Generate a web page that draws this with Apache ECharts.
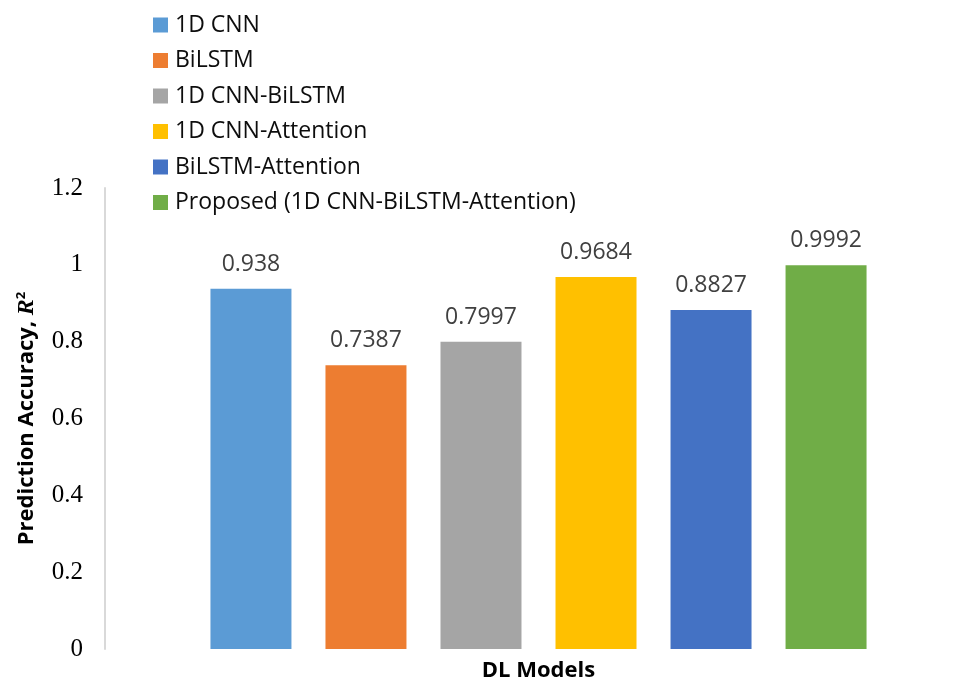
<!DOCTYPE html>
<html>
<head>
<meta charset="utf-8">
<title>Prediction Accuracy of DL Models</title>
<script src="https://cdn.jsdelivr.net/npm/echarts@6/dist/echarts.min.js"></script>
<style>
  html, body { margin: 0; padding: 0; background: #fff; }
  #chart { width: 960px; height: 679px; }
</style>
</head>
<body>
<div id="chart"></div>
<script>
// Model names (one bar per model) and their R² scores
const models = [
  '1D CNN',
  'BiLSTM',
  '1D CNN-BiLSTM',
  '1D CNN-Attention',
  'BiLSTM-Attention',
  'Proposed (1D CNN-BiLSTM-Attention)'
];
const r2Scores = [0.938, 0.7387, 0.7997, 0.9684, 0.8827, 0.9992];
const barColors = ['#5B9BD5', '#ED7D31', '#A5A5A5', '#FFC000', '#4472C4', '#70AD47'];
const yTicks = { min: 0, max: 1.2, interval: 0.2 };

const uiFont = '"Open Sans", Lato, sans-serif';

const chart = echarts.init(document.getElementById('chart'), null, { renderer: 'canvas' });

const series = models.map((name, i) => ({
  name: name,
  type: 'bar',
  data: [r2Scores[i]],
  barWidth: 81,
  barGap: '42%',
  itemStyle: { color: barColors[i] },
  label: {
    show: true,
    position: 'top',
    distance: 13,
    color: '#404040',
    fontFamily: uiFont,
    fontSize: 23
  }
}));

chart.setOption({
  animation: false,
  backgroundColor: '#fff',
  color: barColors,
  legend: {
    orient: 'vertical',
    left: 148,
    top: 8,
    itemWidth: 15,
    itemHeight: 15,
    itemGap: 11.5,
    icon: 'rect',
    textStyle: { color: '#0d0d0d', fontFamily: uiFont, fontSize: 23, lineHeight: 24, padding: [0, 0, 0, 2] },
    data: models
  },
  grid: {
    left: 105, width: 867, top: 188, bottom: 30,
    containLabel: false,
    outerBoundsMode: 'none'
  },
  xAxis: {
    type: 'category',
    data: [''],
    axisLine: { show: false },
    axisTick: { show: false },
    axisLabel: { show: false },
    name: 'DL Models',
    nameLocation: 'middle',
    nameGap: 11,
    nameTextStyle: {
      color: '#000',
      fontFamily: uiFont,
      fontWeight: 'bold',
      fontSize: 22
    }
  },
  yAxis: {
    type: 'value',
    min: yTicks.min,
    max: yTicks.max,
    interval: yTicks.interval,
    splitLine: { show: false },
    axisTick: { show: false },
    axisLine: { show: true, lineStyle: { color: '#d9d9d9', width: 2 } },
    axisLabel: {
      color: '#000',
      fontFamily: '"Liberation Serif", "DejaVu Serif", serif',
      fontSize: 25,
      margin: 22
    },
    name: '{b|Prediction Accuracy, }{i|R}{s|2}',
    nameLocation: 'middle',
    nameGap: 66,
    nameRotate: 90,
    nameTextStyle: {
      rich: {
        b: { fontFamily: uiFont, fontWeight: 'bold', fontSize: 22, color: '#000' },
        i: { fontFamily: '"Liberation Serif", serif', fontStyle: 'italic', fontWeight: 'bold', fontSize: 24, color: '#000' },
        s: { fontFamily: uiFont, fontWeight: 'bold', fontSize: 13, color: '#000', verticalAlign: 'top', padding: [0, 0, 9, 0] }
      }
    }
  },
  series: series
});
</script>
</body>
</html>
